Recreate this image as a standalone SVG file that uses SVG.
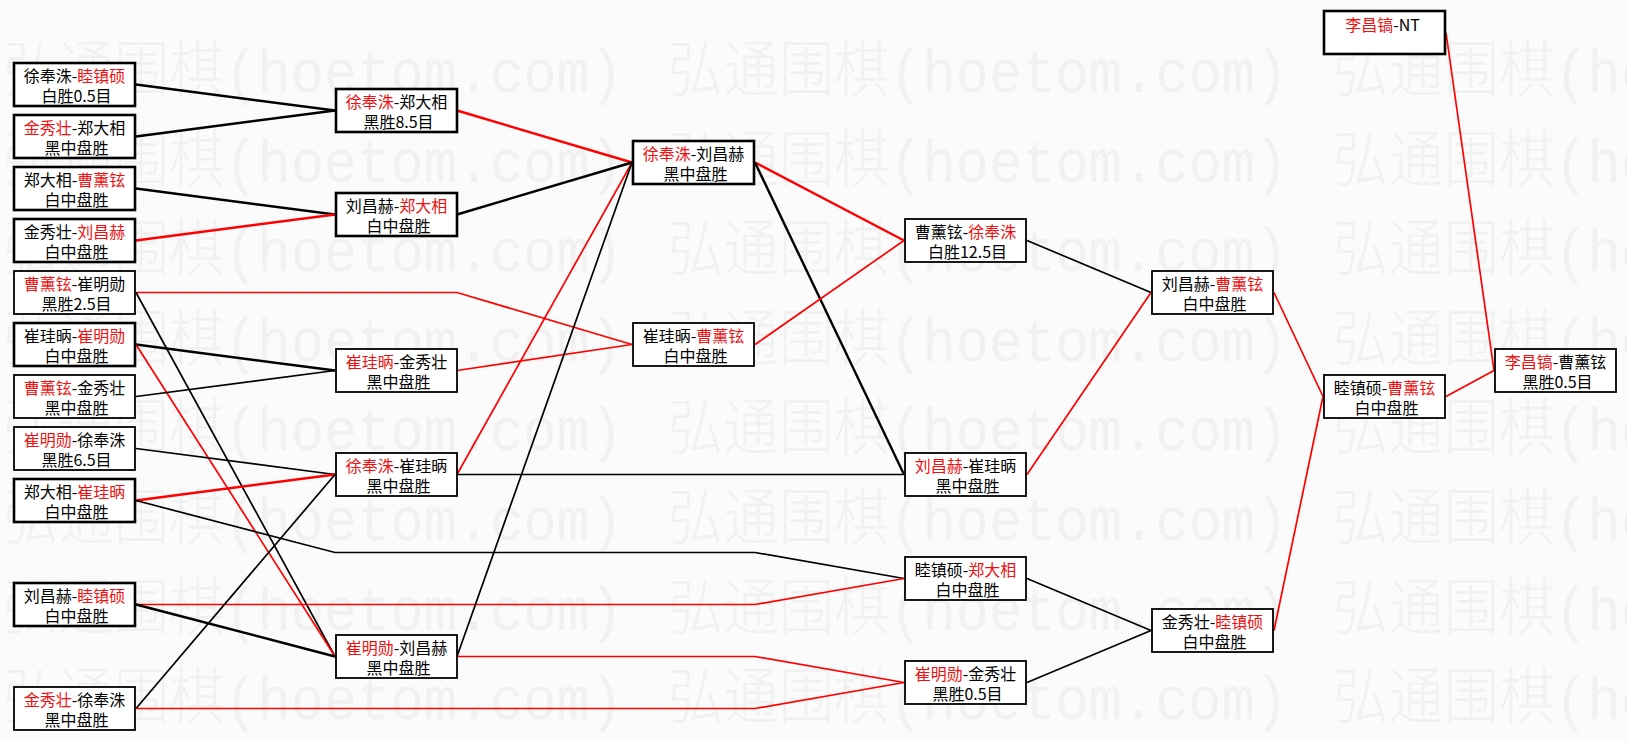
<svg xmlns="http://www.w3.org/2000/svg" width="1627" height="741" viewBox="0 0 1627 741">
<style>
.wm{font-family:"Noto Sans CJK SC","Liberation Serif",serif;font-size:62px;fill:#f1f1f1;font-weight:300}
.wm tspan{font-family:"Liberation Mono",monospace}
.b{fill:#ffffff;stroke:#000}
.k{stroke-width:2.6}
.n{stroke-width:1.8}
.t{font-family:"Noto Sans CJK SC","Liberation Sans",sans-serif;font-size:16px;fill:#000;text-anchor:middle}
.r{fill:#f01010}
.lk{fill:none;stroke:#000}
.lr{fill:none;stroke:#f00}
.w1{stroke-width:2.4}
.w2{stroke-width:1.7}
</style>
<rect x="0" y="0" width="1627" height="741" fill="#fbfbfb"/>
<g id="watermark">
<text class="wm" x="3" y="92" textLength="620" lengthAdjust="spacingAndGlyphs">弘通围棋<tspan>(hoetom.com)</tspan></text>
<text class="wm" x="668" y="92" textLength="620" lengthAdjust="spacingAndGlyphs">弘通围棋<tspan>(hoetom.com)</tspan></text>
<text class="wm" x="1333" y="92" textLength="620" lengthAdjust="spacingAndGlyphs">弘通围棋<tspan>(hoetom.com)</tspan></text>
<text class="wm" x="3" y="181.6" textLength="620" lengthAdjust="spacingAndGlyphs">弘通围棋<tspan>(hoetom.com)</tspan></text>
<text class="wm" x="668" y="181.6" textLength="620" lengthAdjust="spacingAndGlyphs">弘通围棋<tspan>(hoetom.com)</tspan></text>
<text class="wm" x="1333" y="181.6" textLength="620" lengthAdjust="spacingAndGlyphs">弘通围棋<tspan>(hoetom.com)</tspan></text>
<text class="wm" x="3" y="271.2" textLength="620" lengthAdjust="spacingAndGlyphs">弘通围棋<tspan>(hoetom.com)</tspan></text>
<text class="wm" x="668" y="271.2" textLength="620" lengthAdjust="spacingAndGlyphs">弘通围棋<tspan>(hoetom.com)</tspan></text>
<text class="wm" x="1333" y="271.2" textLength="620" lengthAdjust="spacingAndGlyphs">弘通围棋<tspan>(hoetom.com)</tspan></text>
<text class="wm" x="3" y="360.8" textLength="620" lengthAdjust="spacingAndGlyphs">弘通围棋<tspan>(hoetom.com)</tspan></text>
<text class="wm" x="668" y="360.8" textLength="620" lengthAdjust="spacingAndGlyphs">弘通围棋<tspan>(hoetom.com)</tspan></text>
<text class="wm" x="1333" y="360.8" textLength="620" lengthAdjust="spacingAndGlyphs">弘通围棋<tspan>(hoetom.com)</tspan></text>
<text class="wm" x="3" y="450.4" textLength="620" lengthAdjust="spacingAndGlyphs">弘通围棋<tspan>(hoetom.com)</tspan></text>
<text class="wm" x="668" y="450.4" textLength="620" lengthAdjust="spacingAndGlyphs">弘通围棋<tspan>(hoetom.com)</tspan></text>
<text class="wm" x="1333" y="450.4" textLength="620" lengthAdjust="spacingAndGlyphs">弘通围棋<tspan>(hoetom.com)</tspan></text>
<text class="wm" x="3" y="540" textLength="620" lengthAdjust="spacingAndGlyphs">弘通围棋<tspan>(hoetom.com)</tspan></text>
<text class="wm" x="668" y="540" textLength="620" lengthAdjust="spacingAndGlyphs">弘通围棋<tspan>(hoetom.com)</tspan></text>
<text class="wm" x="1333" y="540" textLength="620" lengthAdjust="spacingAndGlyphs">弘通围棋<tspan>(hoetom.com)</tspan></text>
<text class="wm" x="3" y="629.6" textLength="620" lengthAdjust="spacingAndGlyphs">弘通围棋<tspan>(hoetom.com)</tspan></text>
<text class="wm" x="668" y="629.6" textLength="620" lengthAdjust="spacingAndGlyphs">弘通围棋<tspan>(hoetom.com)</tspan></text>
<text class="wm" x="1333" y="629.6" textLength="620" lengthAdjust="spacingAndGlyphs">弘通围棋<tspan>(hoetom.com)</tspan></text>
<text class="wm" x="3" y="719.2" textLength="620" lengthAdjust="spacingAndGlyphs">弘通围棋<tspan>(hoetom.com)</tspan></text>
<text class="wm" x="668" y="719.2" textLength="620" lengthAdjust="spacingAndGlyphs">弘通围棋<tspan>(hoetom.com)</tspan></text>
<text class="wm" x="1333" y="719.2" textLength="620" lengthAdjust="spacingAndGlyphs">弘通围棋<tspan>(hoetom.com)</tspan></text>
</g>
<g id="connectors">
<line class="lk w1" x1="136" y1="84.5" x2="335" y2="110.5"/>
<line class="lk w1" x1="136" y1="136.5" x2="335" y2="110.5"/>
<line class="lk w1" x1="136" y1="188.5" x2="335" y2="214.5"/>
<line class="lr w1" x1="136" y1="240.5" x2="335" y2="214.5"/>
<polyline class="lr w2" points="136,292.5 457,292.5 632,344.5"/>
<line class="lk w2" x1="136" y1="292.5" x2="335" y2="656.5"/>
<line class="lk w1" x1="136" y1="344.5" x2="335" y2="370.5"/>
<line class="lr w2" x1="136" y1="344.5" x2="335" y2="656.5"/>
<line class="lk w2" x1="136" y1="396.5" x2="335" y2="370.5"/>
<line class="lk w2" x1="136" y1="448.5" x2="335" y2="474.5"/>
<line class="lr w1" x1="136" y1="500.5" x2="335" y2="474.5"/>
<polyline class="lk w2" points="136,500.5 335,552.5 755,552.5 904,578.5"/>
<polyline class="lr w2" points="136,604.5 755,604.5 904,578.5"/>
<line class="lk w1" x1="136" y1="604.5" x2="335" y2="656.5"/>
<line class="lk w2" x1="136" y1="708.5" x2="335" y2="474.5"/>
<polyline class="lr w2" points="136,708.5 755,708.5 904,682.5"/>
<line class="lr w1" x1="457" y1="110.5" x2="632" y2="162.5"/>
<line class="lk w1" x1="457" y1="214.5" x2="632" y2="162.5"/>
<line class="lr w2" x1="457" y1="370.5" x2="632" y2="344.5"/>
<line class="lr w2" x1="457" y1="474.5" x2="632" y2="162.5"/>
<line class="lk w2" x1="457" y1="474.5" x2="904" y2="474.5"/>
<line class="lk w2" x1="457" y1="656.5" x2="632" y2="162.5"/>
<polyline class="lr w2" points="457,656.5 755,656.5 904,682.5"/>
<line class="lr w1" x1="755" y1="162.5" x2="904" y2="240.5"/>
<line class="lk w1" x1="755" y1="162.5" x2="904" y2="474.5"/>
<line class="lr w2" x1="755" y1="344.5" x2="904" y2="240.5"/>
<line class="lk w2" x1="1027" y1="240.5" x2="1151" y2="292.5"/>
<line class="lr w2" x1="1027" y1="474.5" x2="1151" y2="292.5"/>
<line class="lk w2" x1="1027" y1="578.5" x2="1151" y2="630.5"/>
<line class="lk w2" x1="1027" y1="682.5" x2="1151" y2="630.5"/>
<line class="lr w2" x1="1274" y1="292.5" x2="1323" y2="396.5"/>
<line class="lr w2" x1="1274" y1="630.5" x2="1323" y2="396.5"/>
<line class="lr w2" x1="1446" y1="396.5" x2="1494" y2="370.5"/>
<line class="lr w2" x1="1446" y1="32.5" x2="1494" y2="370.5"/>
</g>
<g id="n1"><rect class="b k" x="14" y="63" width="121" height="43"/><text class="t" x="74.5" y="82"><tspan>徐奉洙</tspan>-<tspan class="r">睦镇硕</tspan></text><text class="t" x="76.5" y="102">白胜0.5目</text></g>
<g id="n2"><rect class="b k" x="14" y="115" width="121" height="43"/><text class="t" x="74.5" y="134"><tspan class="r">金秀壮</tspan>-郑大相</text><text class="t" x="76.5" y="154">黑中盘胜</text></g>
<g id="n3"><rect class="b k" x="14" y="167" width="121" height="43"/><text class="t" x="74.5" y="186">郑大相-<tspan class="r">曹薰铉</tspan></text><text class="t" x="76.5" y="206">白中盘胜</text></g>
<g id="n4"><rect class="b k" x="14" y="219" width="121" height="43"/><text class="t" x="74.5" y="238">金秀壮-<tspan class="r">刘昌赫</tspan></text><text class="t" x="76.5" y="258">白中盘胜</text></g>
<g id="n5"><rect class="b n" x="14" y="271" width="121" height="43"/><text class="t" x="74.5" y="290"><tspan class="r">曹薰铉</tspan>-崔明勋</text><text class="t" x="76.5" y="310">黑胜2.5目</text></g>
<g id="n6"><rect class="b k" x="14" y="323" width="121" height="43"/><text class="t" x="74.5" y="342">崔珪昞-<tspan class="r">崔明勋</tspan></text><text class="t" x="76.5" y="362">白中盘胜</text></g>
<g id="n7"><rect class="b n" x="14" y="375" width="121" height="43"/><text class="t" x="74.5" y="394"><tspan class="r">曹薰铉</tspan>-金秀壮</text><text class="t" x="76.5" y="414">黑中盘胜</text></g>
<g id="n8"><rect class="b n" x="14" y="427" width="121" height="43"/><text class="t" x="74.5" y="446"><tspan class="r">崔明勋</tspan>-徐奉洙</text><text class="t" x="76.5" y="466">黑胜6.5目</text></g>
<g id="n9"><rect class="b k" x="14" y="479" width="121" height="43"/><text class="t" x="74.5" y="498">郑大相-<tspan class="r">崔珪昞</tspan></text><text class="t" x="76.5" y="518">白中盘胜</text></g>
<g id="n10"><rect class="b k" x="14" y="583" width="121" height="43"/><text class="t" x="74.5" y="602">刘昌赫-<tspan class="r">睦镇硕</tspan></text><text class="t" x="76.5" y="622">白中盘胜</text></g>
<g id="n11"><rect class="b n" x="14" y="687" width="121" height="43"/><text class="t" x="74.5" y="706"><tspan class="r">金秀壮</tspan>-徐奉洙</text><text class="t" x="76.5" y="726">黑中盘胜</text></g>
<g id="n12"><rect class="b k" x="336" y="89" width="121" height="43"/><text class="t" x="396.5" y="108"><tspan class="r">徐奉洙</tspan>-郑大相</text><text class="t" x="398.5" y="128">黑胜8.5目</text></g>
<g id="n13"><rect class="b k" x="336" y="193" width="121" height="43"/><text class="t" x="396.5" y="212">刘昌赫-<tspan class="r">郑大相</tspan></text><text class="t" x="398.5" y="232">白中盘胜</text></g>
<g id="n14"><rect class="b n" x="336" y="349" width="121" height="43"/><text class="t" x="396.5" y="368"><tspan class="r">崔珪昞</tspan>-金秀壮</text><text class="t" x="398.5" y="388">黑中盘胜</text></g>
<g id="n15"><rect class="b n" x="336" y="453" width="121" height="43"/><text class="t" x="396.5" y="472"><tspan class="r">徐奉洙</tspan>-崔珪昞</text><text class="t" x="398.5" y="492">黑中盘胜</text></g>
<g id="n16"><rect class="b n" x="336" y="635" width="121" height="43"/><text class="t" x="396.5" y="654"><tspan class="r">崔明勋</tspan>-刘昌赫</text><text class="t" x="398.5" y="674">黑中盘胜</text></g>
<g id="n17"><rect class="b k" x="633" y="141" width="121" height="43"/><text class="t" x="693.5" y="160"><tspan class="r">徐奉洙</tspan>-刘昌赫</text><text class="t" x="695.5" y="180">黑中盘胜</text></g>
<g id="n18"><rect class="b n" x="633" y="323" width="121" height="43"/><text class="t" x="693.5" y="342">崔珪昞-<tspan class="r">曹薰铉</tspan></text><text class="t" x="695.5" y="362">白中盘胜</text></g>
<g id="n19"><rect class="b n" x="905" y="219" width="121" height="43"/><text class="t" x="965.5" y="238">曹薰铉-<tspan class="r">徐奉洙</tspan></text><text class="t" x="967.5" y="258">白胜12.5目</text></g>
<g id="n20"><rect class="b n" x="905" y="453" width="121" height="43"/><text class="t" x="965.5" y="472"><tspan class="r">刘昌赫</tspan>-崔珪昞</text><text class="t" x="967.5" y="492">黑中盘胜</text></g>
<g id="n21"><rect class="b n" x="905" y="557" width="121" height="43"/><text class="t" x="965.5" y="576">睦镇硕-<tspan class="r">郑大相</tspan></text><text class="t" x="967.5" y="596">白中盘胜</text></g>
<g id="n22"><rect class="b n" x="905" y="661" width="121" height="43"/><text class="t" x="965.5" y="680"><tspan class="r">崔明勋</tspan>-金秀壮</text><text class="t" x="967.5" y="700">黑胜0.5目</text></g>
<g id="n23"><rect class="b n" x="1152" y="271" width="121" height="43"/><text class="t" x="1212.5" y="290">刘昌赫-<tspan class="r">曹薰铉</tspan></text><text class="t" x="1214.5" y="310">白中盘胜</text></g>
<g id="n24"><rect class="b n" x="1152" y="609" width="121" height="43"/><text class="t" x="1212.5" y="628">金秀壮-<tspan class="r">睦镇硕</tspan></text><text class="t" x="1214.5" y="648">白中盘胜</text></g>
<g id="n25"><rect class="b n" x="1324" y="375" width="121" height="43"/><text class="t" x="1384.5" y="394">睦镇硕-<tspan class="r">曹薰铉</tspan></text><text class="t" x="1386.5" y="414">白中盘胜</text></g>
<g id="n26"><rect class="b k" x="1324" y="11" width="121" height="43"/><text class="t" x="1382.5" y="31"><tspan class="r">李昌镐</tspan>-NT</text></g>
<g id="n27"><rect class="b n" x="1495" y="349" width="121" height="43"/><text class="t" x="1555.5" y="368"><tspan class="r">李昌镐</tspan>-曹薰铉</text><text class="t" x="1557.5" y="388">黑胜0.5目</text></g>
</svg>
